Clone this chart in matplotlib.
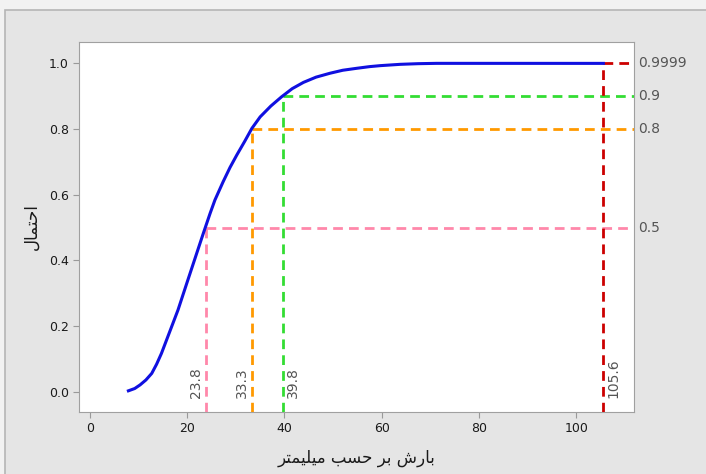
import matplotlib.pyplot as plt
from matplotlib.patches import Rectangle

rain = [7.9, 9.2, 10.3, 11.5, 12.7, 13.7, 14.7, 16.4, 18.1, 19.9, 21.6, 23.3,
        24.7, 25.7, 27.4, 28.8, 30.2, 31.8, 33.3, 35.0, 37.2, 39.4, 41.6, 43.9,
        46.5, 49.4, 52.0, 54.9, 57.5, 59.7, 63.8, 67.5, 71.3, 105.6]
prob = [0.003, 0.010, 0.021, 0.036, 0.056, 0.084, 0.117, 0.183, 0.249, 0.330,
        0.406, 0.482, 0.543, 0.584, 0.640, 0.683, 0.721, 0.762, 0.802, 0.837,
        0.870, 0.898, 0.923, 0.942, 0.958, 0.970, 0.979, 0.985, 0.990, 0.993,
        0.997, 0.999, 1.0, 0.9999]

ref_x = [23.8, 33.3, 39.8, 105.6]
ref_p = [0.5, 0.8, 0.9, 0.9999]
ref_labels = ["0.5", "0.8", "0.9", "0.9999"]
ref_colors = ["#ff88aa", "#ff9900", "#33dd33", "#cc0000"]
ref_side = ["left", "left", "right", "right"]

# Persian labels written in shaped presentation forms, visual order
xlabel = "\ufeae\ufe98\ufee4\ufef4\ufee0\ufef4\ufee3 \ufe90\ufeb4\ufea3 \ufeae\ufe91 \ufeb5\ufead\ufe8e\ufe91"
ylabel = "\ufedd\ufe8e\ufee4\ufe98\ufea3\ufe8d"

fig = plt.figure(figsize=(7.06, 4.74), dpi=100, facecolor="#f2f2f2")
fig.patches.append(Rectangle((5 / 706, -0.01), 1.05, 1 - 10 / 474 + 0.01,
                             transform=fig.transFigure, facecolor="#e5e5e5",
                             edgecolor="#b5b5b5", linewidth=1.2, zorder=-10))
ax = fig.add_axes([79.3 / 706, 1 - 412 / 474, (634 - 79.3) / 706, (412 - 42) / 474])
ax.set_zorder(1)

xmin, xmax = -2.2, 111.9
ymin, ymax = -0.0615, 1.065

ax.plot(rain, prob, color="#1010e0", lw=2.2, zorder=5)

for x, p, lab, c, side in zip(ref_x, ref_p, ref_labels, ref_colors, ref_side):
    ax.plot([x, x], [ymin, p], color=c, lw=2, ls=(0, (3.5, 2.2)), zorder=4)
    ax.plot([x, xmax], [p, p], color=c, lw=2, ls=(0, (3.5, 2.2)), zorder=4)
    ax.text(xmax + 0.8, p, lab, color="#555555", fontsize=10, va="center",
            ha="left", clip_on=False)
    if side == "left":
        ax.text(x - 0.6, -0.02, f"{x:g}", color="#555555", fontsize=10,
                rotation=90, ha="right", va="bottom")
    else:
        ax.text(x + 0.6, -0.02, f"{x:g}", color="#555555", fontsize=10,
                rotation=90, ha="left", va="bottom")

ax.set_xlim(xmin, xmax)
ax.set_ylim(ymin, ymax)
ax.set_xticks([0, 20, 40, 60, 80, 100])
ax.set_yticks([0.0, 0.2, 0.4, 0.6, 0.8, 1.0])
ax.set_yticklabels(["0.0", "0.2", "0.4", "0.6", "0.8", "1.0"])
ax.tick_params(colors="#999999", labelcolor="#1a1a1a", labelsize=9, length=4)
for s in ax.spines.values():
    s.set_color("#a0a0a0")

ax.set_xlabel(xlabel, fontsize=12, color="#1a1a1a", labelpad=10)
ax.set_ylabel(ylabel, fontsize=12, color="#1a1a1a", labelpad=6)

fig.savefig("out.png", dpi=100, facecolor=fig.get_facecolor())
